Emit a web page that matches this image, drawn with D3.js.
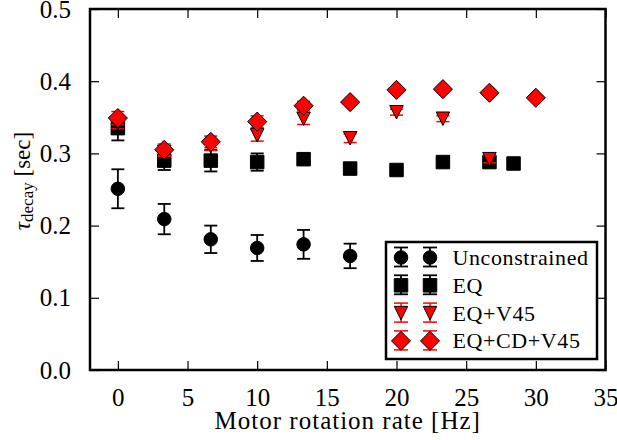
<!DOCTYPE html>
<html>
<head>
<meta charset="utf-8">
<script src="https://cdn.jsdelivr.net/npm/d3@7/dist/d3.min.js"></script>
<style>
  body { margin: 0; background: #fff; }
</style>
</head>
<body>
<div id="chart"></div>
<script>
// data
const rates = [0, 3.33, 6.67, 10, 13.33, 16.67, 20, 23.33, 26.67, 30];

const unconstrainedX = rates.slice(0, 6);
const unconstrainedY = [0.251, 0.209, 0.181, 0.169, 0.174, 0.158];
const unconstrainedErr = [0.027, 0.021, 0.019, 0.018, 0.020, 0.017];

const eqX = [0, 3.33, 6.67, 10, 13.33, 16.67, 20, 23.33, 26.67, 28.4];
const eqY = [0.335, 0.290, 0.290, 0.288, 0.292, 0.279, 0.277, 0.288, 0.288, 0.286];
const eqErr = [0.017, 0.013, 0.015, 0.012, 0.007, 0.006, 0.006, 0.006, 0.006, 0.006];

const eqV45X = rates.slice(0, 9);
const eqV45Y = [0.342, 0.302, 0.310, 0.325, 0.348, 0.321, 0.357, 0.348, 0.292];
const eqV45Err = [0.008, 0.006, 0.006, 0.008, 0.008, 0.006, 0.004, 0.004, 0.005];

const eqCdV45X = rates;
const eqCdV45Y = [0.349, 0.305, 0.316, 0.344, 0.366, 0.371, 0.388, 0.389, 0.384, 0.377];
const eqCdV45Err = [0.009, 0.008, 0.008, 0.008, 0.006, 0.003, 0.003, 0.003, 0.003, 0.003];

const xTicks = [0, 5, 10, 15, 20, 25, 30, 35];
const yTicks = [0.0, 0.1, 0.2, 0.3, 0.4, 0.5];

const series = [
    {name: "Unconstrained", x: unconstrainedX, y: unconstrainedY, err: unconstrainedErr, marker: "circle", fill: "black", bar: "black"},
    {name: "EQ", x: eqX, y: eqY, err: eqErr, marker: "square", fill: "black", bar: "black"},
    {name: "EQ+V45", x: eqV45X, y: eqV45Y, err: eqV45Err, marker: "triangle", fill: "red", bar: "red"},
    {name: "EQ+CD+V45", x: eqCdV45X, y: eqCdV45Y, err: eqCdV45Err, marker: "diamond", fill: "red", bar: "red"}
];

const width = 617;
const height = 440;
const margin = {top: 9, right: 11.5, bottom: 70, left: 90};
const ms = 13.5; // marker size
const serif = '"Liberation Serif"';

const svg = d3.select("#chart").append("svg")
    .attr("width", width)
    .attr("height", height)
    .style("font-family", serif);

const x = d3.scaleLinear().domain([-2, 35]).range([margin.left, width - margin.right]);
const y = d3.scaleLinear().domain([0, 0.5]).range([height - margin.bottom, margin.top]);

function markerPath(type, s) {
    const h = s / 2;
    if (type === "circle")
        return d3.symbol(d3.symbolCircle, Math.PI * h * h)();
    if (type === "square")
        return `M${-h},${-h}H${h}V${h}H${-h}Z`;
    if (type === "triangle")
        return `M0,${h}L${-h},${-h}L${h},${-h}Z`;
    const d = h * Math.SQRT2;
    return `M0,${-d}L${d},0L0,${d}L${-d},0Z`;
}

// ticks (inward, all four sides)
const tickLen = 9;
svg.append("g")
    .attr("transform", `translate(0,${y(0)})`)
    .call(d3.axisBottom(x).tickValues(xTicks).tickSize(-tickLen).tickPadding(9 + tickLen).tickFormat(d3.format("d")))
    .call(g => g.select(".domain").remove());
svg.append("g")
    .attr("transform", `translate(0,${y(0.5)})`)
    .call(d3.axisTop(x).tickValues(xTicks).tickSize(-tickLen).tickFormat(""))
    .call(g => g.select(".domain").remove());
svg.append("g")
    .attr("transform", `translate(${x(-2)},0)`)
    .call(d3.axisLeft(y).tickValues(yTicks).tickSize(-tickLen).tickPadding(10 + tickLen).tickFormat(d3.format(".1f")))
    .call(g => g.select(".domain").remove());
svg.append("g")
    .attr("transform", `translate(${x(35)},0)`)
    .call(d3.axisRight(y).tickValues(yTicks).tickSize(-tickLen).tickFormat(""))
    .call(g => g.select(".domain").remove());

svg.selectAll(".tick line").attr("stroke", "black").attr("stroke-width", 1.2);
svg.selectAll(".tick text")
    .attr("font-size", 25)
    .attr("fill", "black");

// series
const plot = svg.append("g");
series.forEach(s => {
    const g = plot.append("g");
    const pts = s.x.map((xv, i) => ({x: xv, y: s.y[i], e: s.err[i]}));
    const cap = 6.5;
    const sw = s.bar === "red" ? 1.5 : 1.8;
    pts.forEach(p => {
        const cx = x(p.x);
        const y0 = y(p.y - p.e), y1 = y(p.y + p.e);
        g.append("line").attr("x1", cx).attr("x2", cx).attr("y1", y0).attr("y2", y1)
            .attr("stroke", s.bar).attr("stroke-width", sw);
        [y0, y1].forEach(yy => g.append("line")
            .attr("x1", cx - cap).attr("x2", cx + cap).attr("y1", yy).attr("y2", yy)
            .attr("stroke", s.bar).attr("stroke-width", sw));
    });
    g.selectAll("path").data(pts).enter().append("path")
        .attr("d", markerPath(s.marker, ms))
        .attr("transform", d => `translate(${x(d.x)},${y(d.y)})`)
        .attr("fill", s.fill)
        .attr("stroke", "black")
        .attr("stroke-width", 1);
});

// frame
svg.append("rect")
    .attr("x", x(-2)).attr("y", y(0.5))
    .attr("width", x(35) - x(-2)).attr("height", y(0) - y(0.5))
    .attr("fill", "none").attr("stroke", "black").attr("stroke-width", 2.5);

// axis labels
svg.append("text")
    .attr("x", (x(-2) + x(35)) / 2)
    .attr("y", 429)
    .attr("text-anchor", "middle")
    .attr("font-size", 25)
    .attr("letter-spacing", 1)
    .text("Motor rotation rate [Hz]");

const yl = svg.append("text")
    .attr("transform", "translate(30,181) rotate(-90)")
    .attr("text-anchor", "middle")
    .attr("font-size", 23);
yl.append("tspan").attr("font-style", "italic").text("τ");
yl.append("tspan").attr("font-size", 17).attr("dy", 3).text("decay");
yl.append("tspan").attr("dy", -3).text(" [sec]");

// legend
const legend = svg.append("g");
legend.append("rect")
    .attr("x", 386).attr("y", 242)
    .attr("width", 211).attr("height", 117)
    .attr("fill", "white").attr("stroke", "black").attr("stroke-width", 2.5);
series.forEach((s, i) => {
    const cy = 257.5 + i * 27.8;
    [401, 430].forEach(cx => {
        const sw = s.bar === "red" ? 1.5 : 1.8;
        legend.append("line").attr("x1", cx).attr("x2", cx).attr("y1", cy - 10).attr("y2", cy + 9)
            .attr("stroke", s.bar).attr("stroke-width", sw);
        [cy - 10, cy + 9].forEach(yy => legend.append("line")
            .attr("x1", cx - 7).attr("x2", cx + 7).attr("y1", yy).attr("y2", yy)
            .attr("stroke", s.bar).attr("stroke-width", sw));
        legend.append("path")
            .attr("d", markerPath(s.marker, ms))
            .attr("transform", `translate(${cx},${cy})`)
            .attr("fill", s.fill).attr("stroke", "black").attr("stroke-width", 1);
    });
    legend.append("text")
        .attr("x", 452.5).attr("y", cy + 7.5)
        .attr("font-size", 22)
        .attr("letter-spacing", 0.6)
        .text(s.name);
});

svg.selectAll("g").attr("font-family", null);
svg.selectAll("text").style("font-family", serif);
</script>
</body>
</html>
